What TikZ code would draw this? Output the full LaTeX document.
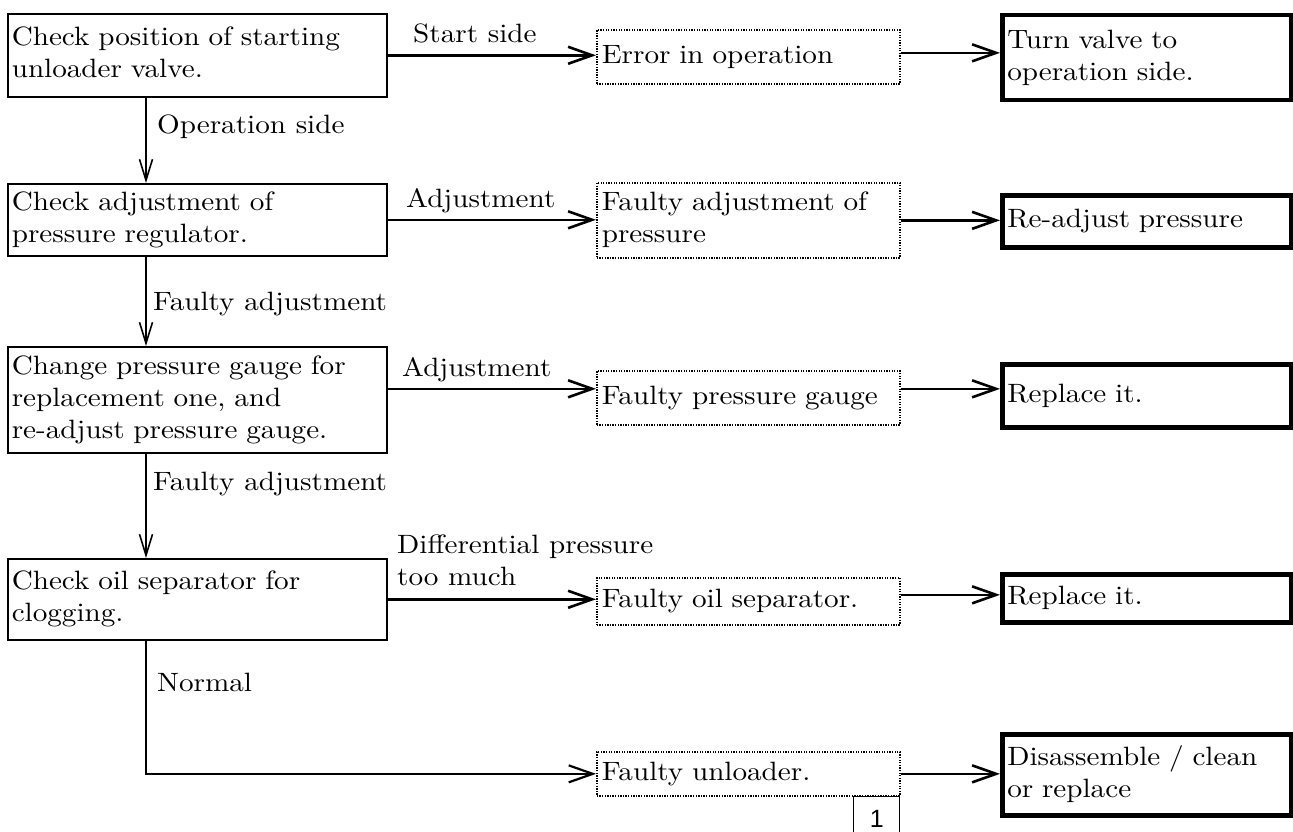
\documentclass[tikz,border=0pt]{standalone}
\usepackage{fontspec}
\setmainfont{lmroman10-regular.otf}[FakeStretch=1.1]
\newfontfamily\arialfont{Liberation Sans}
\usetikzlibrary{arrows.meta}
\tikzset{
  basebox/.style={anchor=north west, inner ysep=0pt, align=left,
    execute at begin node=\strut, execute at end node=\strut},
  checkbox/.style={basebox, draw, line width=1.6pt, text width=371pt, inner xsep=4pt},
  faultbox/.style={basebox, draw, line width=1.7pt, dash pattern=on 1.3pt off 1.3pt,
    text width=293pt, inner xsep=5pt},
  actionbox/.style={basebox, draw, line width=4.5pt, text width=279pt, inner xsep=5pt},
  lbl/.style={anchor=north west, inner sep=0pt, align=left,
    execute at begin node=\strut, execute at end node=\strut},
  thinarrow/.style={line width=1.6pt, -{Straight Barb[length=21pt,width=13pt]}},
  thickarrow/.style={line width=2.6pt, -{Straight Barb[length=24pt,width=17pt]}},
  pagebox/.style={draw, line width=1.4pt, anchor=north west, inner sep=0pt,
    minimum width=46pt, minimum height=45pt,
    font=\arialfont\fontsize{25}{28}\selectfont}
}
\begin{document}
\begin{tikzpicture}[x=1pt, y=-1pt, font=\fontsize{26.5}{32}\selectfont]
\useasboundingbox (0,0) rectangle (1293,832);
\fill[white] (0,0) rectangle (1293,832);
\clip (0,0) rectangle (1293,832);

% left column: checks
\node[checkbox, minimum height=83pt] (B1) at (7,13) {Check position of starting\\unloader valve.};
\node[checkbox, minimum height=72pt] (B2) at (7,183) {Check adjustment of\\pressure regulator.};
\node[checkbox, minimum height=106pt] (B3) at (7,346) {Change pressure gauge for\\replacement one, and\\re-adjust pressure gauge.};
\node[checkbox, minimum height=81pt] (B4) at (7,558) {Check oil separator for\\clogging.};

% middle column: faults
\node[faultbox, minimum height=54pt] (D1) at (596,29) {Error in operation};
\node[faultbox, minimum height=75pt] (D2) at (596,182) {Faulty adjustment of\\pressure};
\node[faultbox, minimum height=54pt] (D3) at (596,370) {Faulty pressure gauge};
\node[faultbox, minimum height=47pt] (D4) at (596,577) {Faulty oil separator.};
\node[faultbox, minimum height=44pt] (D5) at (596,751) {Faulty unloader.};

% right column: actions
\node[actionbox, minimum height=85pt] (R1) at (1000,13) {Turn valve to\\operation side.};
\node[actionbox, minimum height=52pt] (R2) at (1000,193) {Re-adjust pressure};
\node[actionbox, minimum height=63pt] (R3) at (1000,362) {Replace it.};
\node[actionbox, minimum height=48pt] (R4) at (1000,572) {Replace it.};
\node[actionbox, minimum height=81pt] (R5) at (1000,732) {Disassemble / clean\\or replace};

% page number box
\node[pagebox] (PG) at (853,796) {1};

% vertical flow
\draw[thinarrow] ([xshift=139pt]B1.south west) -- ([xshift=139pt]B2.north west);
\draw[thinarrow] ([xshift=139pt]B2.south west) -- ([xshift=139pt]B3.north west);
\draw[thinarrow] ([xshift=139pt]B3.south west) -- ([xshift=139pt]B4.north west);
\draw[line width=2.2pt, -{Straight Barb[length=24pt,width=17pt]}] ([xshift=139pt]B4.south west) |- (D5.west);

% checks -> faults
\draw[thickarrow] (B1.east) -- (B1.east -| D1.west);
\draw[thickarrow] (B2.east) -- (B2.east -| D2.west);
\draw[thickarrow] ([yshift=11pt]B3.east) -- ([yshift=11pt]B3.east -| D3.west);
\draw[thickarrow] (B4.east) -- (B4.east -| D4.west);

% faults -> actions
\draw[thickarrow] ([yshift=4pt]D1.east) -- ([yshift=4pt]D1.east -| R1.west);
\draw[thickarrow] (D2.east) -- (D2.east -| R2.west);
\draw[thickarrow] ([yshift=9pt]D3.east) -- ([yshift=9pt]D3.east -| R3.west);
\draw[thickarrow] ([yshift=6.5pt]D4.east) -- ([yshift=6.5pt]D4.east -| R4.west);
\draw[thickarrow] (D5.east) -- (D5.east -| R5.west);

% labels
\node[lbl] (L1) at (413,19.6) {Start side};
\node[lbl] (L2) at (157,110.6) {Operation side};
\node[lbl] (L3) at (406,184.6) {Adjustment};
\node[lbl] (L4) at (153,287.6) {Faulty adjustment};
\node[lbl] (L5) at (402,353.6) {Adjustment};
\node[lbl] (L6) at (153,467.6) {Faulty adjustment};
\node[lbl] (L7) at (397,534.6) {Differential pressure\\too much};
\node[lbl] (L8) at (157,668.6) {Normal};
\end{tikzpicture}
\end{document}
